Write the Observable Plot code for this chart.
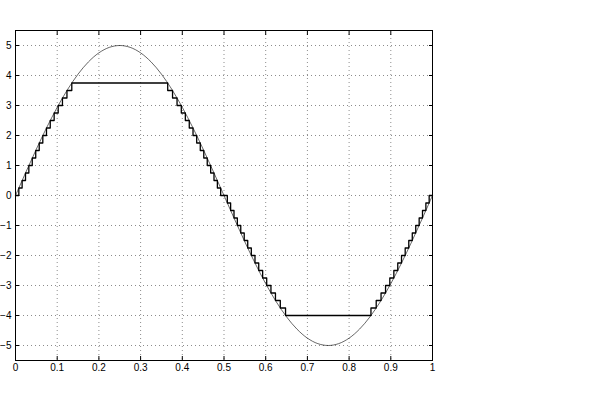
<!DOCTYPE html>
<html>
<head>
<meta charset="utf-8">
<script src="https://cdn.jsdelivr.net/npm/d3@7"></script>
<script src="https://cdn.jsdelivr.net/npm/@observablehq/plot@0.6"></script>
<style>
  html, body { margin: 0; padding: 0; background: #fff; }
  #chart { width: 600px; height: 407px; }
</style>
</head>
<body>
<div id="chart"></div>
<script>
// Continuous sine curve (amplitude 5, one period)
const sineX = [0, 0.025, 0.05, 0.075, 0.1, 0.125, 0.15, 0.175, 0.2, 0.225, 0.25,
  0.275, 0.3, 0.325, 0.35, 0.375, 0.4, 0.425, 0.45, 0.475, 0.5,
  0.525, 0.55, 0.575, 0.6, 0.625, 0.65, 0.675, 0.7, 0.725, 0.75,
  0.775, 0.8, 0.825, 0.85, 0.875, 0.9, 0.925, 0.95, 0.975, 1];
const sineY = [0, 0.782, 1.545, 2.270, 2.939, 3.536, 4.045, 4.455, 4.755, 4.938, 5,
  4.938, 4.755, 4.455, 4.045, 3.536, 2.939, 2.270, 1.545, 0.782, 0,
  -0.782, -1.545, -2.270, -2.939, -3.536, -4.045, -4.455, -4.755, -4.938, -5,
  -4.938, -4.755, -4.455, -4.045, -3.536, -2.939, -2.270, -1.545, -0.782, 0];

// Quantized (step 0.25, saturated at 3.75 / -4) staircase: change points and levels
const stairX = [0, 0.0080, 0.0159, 0.0240, 0.0320, 0.0402, 0.0485, 0.0569, 0.0655, 0.0743,
  0.0833, 0.0927, 0.1024, 0.1126, 0.1234, 0.1350,
  0.3650, 0.3766, 0.3874, 0.3976, 0.4073, 0.4167, 0.4257, 0.4345, 0.4431, 0.4515,
  0.4598, 0.4680, 0.4760, 0.4841, 0.4920,
  0.5080, 0.5159, 0.5240, 0.5320, 0.5402, 0.5485, 0.5569, 0.5655, 0.5743, 0.5833,
  0.5927, 0.6024, 0.6126, 0.6234, 0.6350, 0.6476,
  0.8524, 0.8650, 0.8766, 0.8874, 0.8976, 0.9073, 0.9167, 0.9257, 0.9345, 0.9431,
  0.9515, 0.9598, 0.9680, 0.9760, 0.9841, 0.9920, 1];
const stairY = [0, 0.25, 0.5, 0.75, 1, 1.25, 1.5, 1.75, 2, 2.25,
  2.5, 2.75, 3, 3.25, 3.5, 3.75,
  3.5, 3.25, 3, 2.75, 2.5, 2.25, 2, 1.75, 1.5, 1.25,
  1, 0.75, 0.5, 0.25, 0,
  -0.25, -0.5, -0.75, -1, -1.25, -1.5, -1.75, -2, -2.25, -2.5,
  -2.75, -3, -3.25, -3.5, -3.75, -4,
  -3.75, -3.5, -3.25, -3, -2.75, -2.5, -2.25, -2, -1.75, -1.5,
  -1.25, -1, -0.75, -0.5, -0.25, 0, 0];

const xTicks = [0, 0.1, 0.2, 0.3, 0.4, 0.5, 0.6, 0.7, 0.8, 0.9, 1];
const yTicks = [-5, -4, -3, -2, -1, 0, 1, 2, 3, 4, 5];

const sine = sineX.map((x, i) => ({x, y: sineY[i]}));
const stairs = stairX.map((x, i) => ({x, y: stairY[i]}));

const fmtX = d => d === 0 ? "0" : d === 1 ? "1" : d3.format(".1f")(d);
const fmtY = d => d < 0 ? "\u2212" + Math.abs(d) : String(d);

const chart = Plot.plot({
  width: 600,
  height: 407,
  marginLeft: 15,
  marginRight: 168,
  marginTop: 30,
  marginBottom: 47,
  style: {fontFamily: "'Liberation Sans', Arial, sans-serif", fontSize: "10px", background: "#fff", color: "#000"},
  x: {domain: [0, 1]},
  y: {domain: [-5.5, 5.5]},
  marks: [
    Plot.gridX(xTicks, {stroke: "#000", strokeOpacity: 0.45, strokeDasharray: "1,3"}),
    Plot.gridY(yTicks, {stroke: "#000", strokeOpacity: 0.45, strokeDasharray: "1,3"}),
    Plot.line(sine, {x: "x", y: "y", curve: "catmull-rom", stroke: "#000", strokeWidth: 0.6}),
    Plot.line(stairs, {x: "x", y: "y", curve: "step-after", stroke: "#000", strokeWidth: 1.3}),
    Plot.axisX(xTicks, {anchor: "bottom", tickSize: -4, tickPadding: 7, tickFormat: fmtX, label: null, fill: "#000"}),
    Plot.axisX(xTicks, {anchor: "top", tickSize: -4, tickFormat: () => "", label: null}),
    Plot.axisY(yTicks, {anchor: "left", tickSize: -4, tickPadding: 8, tickFormat: fmtY, label: null, fill: "#000"}),
    Plot.axisY(yTicks, {anchor: "right", tickSize: -4, tickFormat: () => "", label: null}),
    Plot.frame({stroke: "#000", strokeWidth: 1})
  ]
});
document.getElementById("chart").append(chart);
</script>
</body>
</html>
